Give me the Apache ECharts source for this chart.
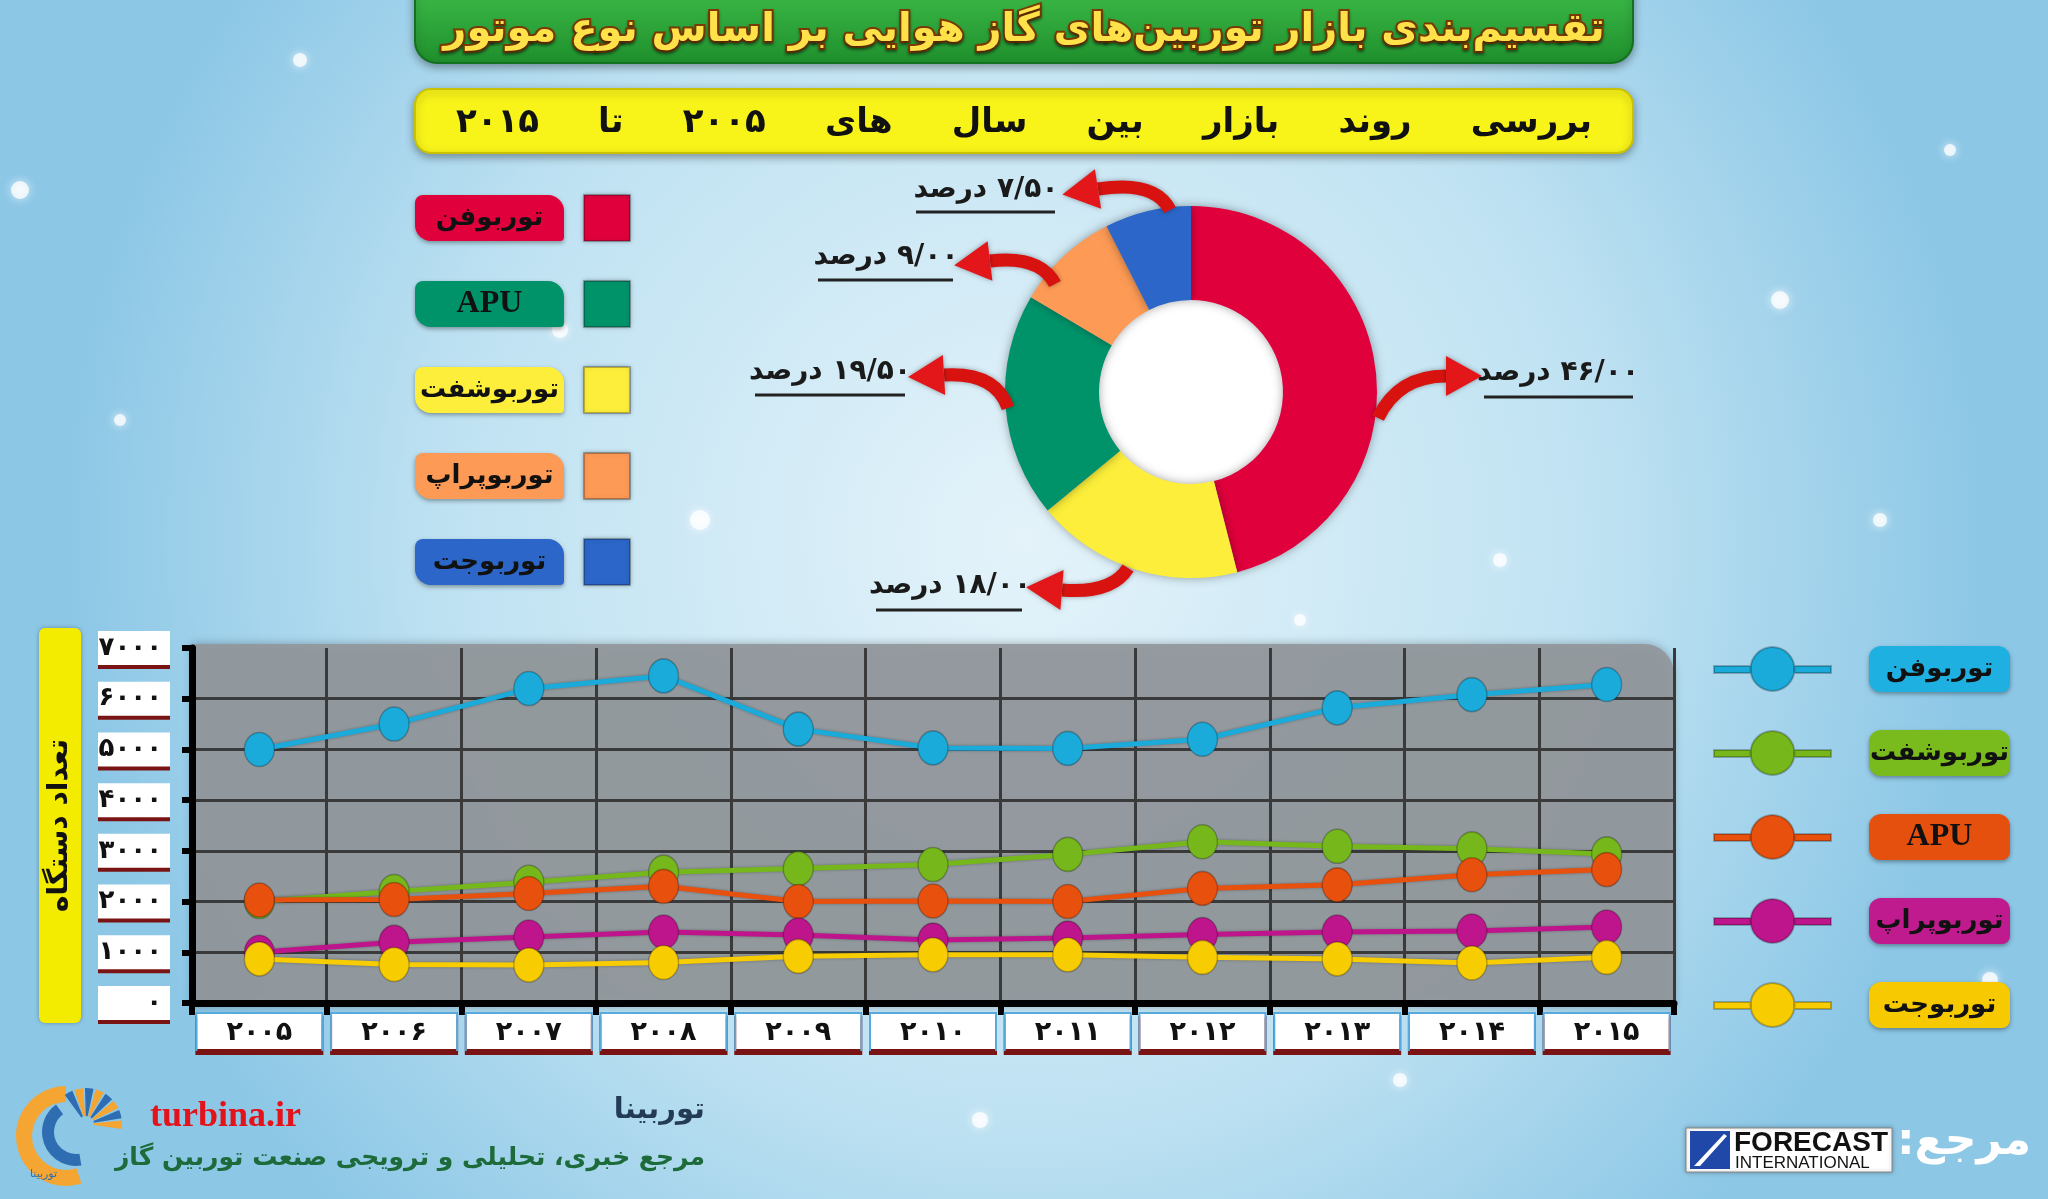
<!DOCTYPE html>
<html>
<head>
<meta charset="utf-8">
<script src="https://cdn.jsdelivr.net/npm/echarts@6/dist/echarts.min.js"></script>
<style>
  html, body { margin: 0; padding: 0; }
  #echarts { width: 2048px; height: 1199px; }
</style>
</head>
<body>
<div id="echarts"></div>
<script>
const FA = '"DejaVu Sans", "Noto Sans", sans-serif';
const RLM = '\u200F';

// داده‌ها
const years = [2005, 2006, 2007, 2008, 2009, 2010, 2011, 2012, 2013, 2014, 2015];
const turbofan = [5000, 5500, 6200, 6450, 5400, 5030, 5020, 5200, 5820, 6080, 6280];
const turboshaft = [2000, 2200, 2380, 2580, 2650, 2730, 2930, 3180, 3090, 3040, 2940];
const apu = [2030, 2040, 2160, 2300, 2000, 2010, 2000, 2260, 2330, 2530, 2630];
const turboprop = [1000, 1200, 1300, 1400, 1340, 1240, 1280, 1350, 1400, 1420, 1500];
const turbojet = [870, 760, 750, 800, 920, 950, 950, 900, 870, 790, 900];
const lineNames = ['توربوفن', 'توربوشفت', 'APU', 'توربوپراپ', 'توربوجت'];

const pieNames = ['توربوفن', 'توربوشفت', 'APU', 'توربوپراپ', 'توربوجت'];
const pieShare = [46, 18, 19.5, 9, 7.5];
const pieLegendOrder = ['توربوفن', 'APU', 'توربوشفت', 'توربوپراپ', 'توربوجت'];

const yTicks = { min: 0, max: 7000, interval: 1000 };

// رنگ‌ها و چیدمان
const lineColors = ['#1aabdb', '#76b81c', '#e8500e', '#be158c', '#f7cc00'];
const lineBoxColors = ['#1fb0e2', '#79bb1d', '#e5500f', '#c01b8e', '#f7c900'];
const pieColors = ['#e0003c', '#fcee3a', '#00936a', '#fd9a55', '#2b66c8'];
const pieLabelPos = [[1558, 373], [950, 586], [830, 372], [886, 257], [986, 190]];
const underlines = [[1484, 1633, 397], [876, 1022, 610], [755, 905, 395], [818, 953, 280], [916, 1055, 212]];
const arrows = [
  [[1378, 418], [1398, 376], [1446, 376]],
  [[1128, 568], [1112, 594], [1062, 590]],
  [[1008, 408], [996, 372], [944, 375]],
  [[1055, 284], [1040, 255], [990, 261]],
  [[1170, 210], [1155, 180], [1098, 189]]
];

const fa = s => String(s).replace(/\d/g, d => '۰۱۲۳۴۵۶۷۸۹'[d]);
const nameFont = n => (n === 'APU' ? '"Liberation Serif", serif' : FA);
const nameSize = n => (n === 'APU' ? 32 : 26);

function arrow(s, c, e) {
  const dx = e[0] - c[0], dy = e[1] - c[1];
  const len = Math.hypot(dx, dy);
  const ux = dx / len, uy = dy / len, px = -uy, py = ux;
  const head = 36, half = 20;
  return [
    {
      type: 'bezierCurve', z: 5,
      shape: { x1: s[0], y1: s[1], cpx1: c[0], cpy1: c[1], x2: e[0], y2: e[1] },
      style: { stroke: '#d8130f', lineWidth: 13, fill: 'none', shadowBlur: 5, shadowColor: 'rgba(0,0,0,0.35)' }
    },
    {
      type: 'polygon', z: 5,
      shape: { points: [[e[0] + px * half, e[1] + py * half], [e[0] + ux * head, e[1] + uy * head], [e[0] - px * half, e[1] - py * half]] },
      style: { fill: '#e3171a', shadowBlur: 5, shadowColor: 'rgba(0,0,0,0.35)' }
    }
  ];
}

const snow = [[20, 190, 9], [120, 420, 6], [300, 60, 7], [560, 330, 8], [700, 520, 10], [1450, 120, 8], [1500, 560, 7],
  [1780, 300, 9], [1950, 150, 6], [1880, 520, 7], [1300, 620, 6], [980, 1120, 8], [1400, 1080, 7], [60, 700, 6], [1990, 980, 8]];

const graphics = [];
// نوار عنوان
graphics.push({
  type: 'rect', z: 0, shape: { x: 415, y: -12, width: 1218, height: 75, r: [0, 0, 22, 22] },
  style: {
    fill: new echarts.graphic.LinearGradient(0, 0, 0, 1, [{ offset: 0, color: '#3dbb48' }, { offset: 1, color: '#1f8f2c' }]),
    stroke: '#13721f', lineWidth: 2, shadowBlur: 8, shadowColor: 'rgba(0,0,0,0.35)', shadowOffsetY: 3
  }
});
graphics.push({
  type: 'rect', z: 0, shape: { x: 415, y: 89, width: 1218, height: 64, r: 16 },
  style: { fill: '#f8f41a', stroke: '#c9c200', lineWidth: 2, shadowBlur: 8, shadowColor: 'rgba(0,0,0,0.35)', shadowOffsetY: 3 }
});
snow.forEach(p => graphics.push({
  type: 'circle', z: -5, shape: { cx: p[0], cy: p[1], r: p[2] },
  style: { fill: 'rgba(255,255,255,0.75)', shadowBlur: 10, shadowColor: '#fff' }
}));
// سوراخ وسط دونات
graphics.push({
  type: 'circle', z: 0, shape: { cx: 1191, cy: 392, r: 94 },
  style: { fill: '#ffffff', stroke: '#d8d8d8', lineWidth: 2 }
});
arrows.forEach(a => graphics.push(...arrow(a[0], a[1], a[2])));
underlines.forEach(u => graphics.push({
  type: 'line', z: 5, shape: { x1: u[0], y1: u[2], x2: u[1], y2: u[2] },
  style: { stroke: '#222', lineWidth: 3 }
}));
// پنل خاکستری نمودار خطی
graphics.push({
  type: 'rect', z: -1, shape: { x: 192, y: 644, width: 1482, height: 362, r: [0, 30, 0, 0] },
  style: { fill: 'rgba(146,152,156,0.93)', shadowBlur: 10, shadowColor: 'rgba(0,0,0,0.3)' }
});
// لوگوی توربینا
graphics.push({
  type: 'sector', z: 1, shape: { cx: 66, cy: 1136, r: 50, r0: 34, startAngle: Math.PI * 0.4, endAngle: Math.PI * 1.5, clockwise: true },
  style: { fill: '#f5a531' }
});
graphics.push({
  type: 'sector', z: 1, shape: { cx: 76, cy: 1132, r: 34, r0: 22, startAngle: Math.PI * 0.45, endAngle: Math.PI * 1.3, clockwise: true },
  style: { fill: '#2f6db3' }
});
[0, 1, 2, 3, 4, 5, 6, 7].forEach(i => graphics.push({
  type: 'sector', z: 1,
  shape: { cx: 86, cy: 1124, r: 36, r0: 8, startAngle: -Math.PI * 0.7 + i * 0.3, endAngle: -Math.PI * 0.7 + i * 0.3 + 0.24, clockwise: true },
  style: { fill: i % 2 ? '#f5a531' : '#2f6db3' }
}));
graphics.push({ type: 'text', z: 2, x: 30, y: 1174, style: { text: 'توربینا', font: '11px ' + FA, fill: '#2f6db3', align: 'left', verticalAlign: 'middle' } });
// متن پاورقی
graphics.push({ type: 'text', z: 2, x: 150, y: 1117, style: { text: 'turbina.ir', font: 'bold 36px "Liberation Serif", serif', fill: '#e3121b', verticalAlign: 'middle' } });
graphics.push({ type: 'text', z: 2, x: 705, y: 1110, style: { text: 'توربینا', font: 'bold 29px ' + FA, fill: '#243b55', align: 'right', verticalAlign: 'middle' } });
graphics.push({ type: 'text', z: 2, x: 705, y: 1158, style: { text: 'مرجع خبری، تحلیلی و ترویجی صنعت توربین گاز', font: 'bold 25px ' + FA, fill: '#1d6b3a', align: 'right', verticalAlign: 'middle' } });
graphics.push({
  type: 'text', z: 2, x: 2031, y: 1143,
  style: { text: 'مرجع:' + RLM, font: 'bold 44px ' + FA, fill: '#ffffff', align: 'right', verticalAlign: 'middle', shadowBlur: 6, shadowColor: 'rgba(0,0,0,0.45)', shadowOffsetY: 2 }
});
// لوگوی Forecast International
graphics.push({ type: 'rect', z: 1, shape: { x: 1686, y: 1128, width: 206, height: 44 }, style: { fill: '#ffffff', stroke: '#888', lineWidth: 1, shadowBlur: 4, shadowColor: 'rgba(0,0,0,0.3)' } });
graphics.push({ type: 'rect', z: 2, shape: { x: 1690, y: 1131, width: 40, height: 38 }, style: { fill: '#1f48a8' } });
graphics.push({ type: 'polygon', z: 3, shape: { points: [[1694, 1166], [1724, 1134], [1727, 1136], [1700, 1166]] }, style: { fill: '#ffffff' } });
graphics.push({ type: 'text', z: 3, x: 1734, y: 1143, style: { text: 'FORECAST', font: 'bold 28px "Liberation Sans", sans-serif', fill: '#111', verticalAlign: 'middle' } });
graphics.push({ type: 'text', z: 3, x: 1735, y: 1163, style: { text: 'INTERNATIONAL', font: '17px "Liberation Sans", sans-serif', fill: '#111', verticalAlign: 'middle' } });

const myChart = echarts.init(document.getElementById('echarts'));

const option = {
  animation: false,
  backgroundColor: {
    type: 'radial', x: 0.5, y: 0.45, r: 0.8,
    colorStops: [{ offset: 0, color: '#e4f3fa' }, { offset: 0.6, color: '#bfe2f2' }, { offset: 1, color: '#8cc7e6' }]
  },
  title: [
    {
      text: 'تقسیم‌بندی بازار توربین‌های گاز هوایی بر اساس نوع موتور',
      left: 'center', top: 6,
      textStyle: {
        fontFamily: FA, fontSize: 40, fontWeight: 'bold', color: '#ffe24a',
        textBorderColor: '#7a3a00', textBorderWidth: 4,
        textShadowColor: 'rgba(0,0,0,0.4)', textShadowBlur: 3, textShadowOffsetY: 2
      }
    },
    {
      text: 'بررسی     روند     بازار     بین     سال     های     ' + fa(years[0]) + '     تا     ' + fa(years[years.length - 1]),
      left: 'center', top: 101,
      textStyle: { fontFamily: FA, fontSize: 34, fontWeight: 'bold', color: '#111' }
    }
  ],
  legend: [
    {
      orient: 'vertical', left: 410, top: 189, align: 'right',
      itemWidth: 46, itemHeight: 46, itemGap: 38, selectedMode: false,
      formatter: n => '{b|' + n + '}{g|}',
      data: pieLegendOrder.map(n => ({
        name: n, icon: 'rect',
        itemStyle: { color: pieColors[pieNames.indexOf(n)], shadowBlur: 4, shadowColor: 'rgba(0,0,0,0.35)' },
        textStyle: {
          rich: {
            b: {
              backgroundColor: pieColors[pieNames.indexOf(n)], color: '#111', fontFamily: nameFont(n),
              fontWeight: 'bold', fontSize: nameSize(n), width: 133, height: 38, align: 'center', padding: [4, 8],
              borderRadius: [8, 16, 4, 16], shadowColor: 'rgba(0,0,0,0.35)', shadowBlur: 4, shadowOffsetY: 2
            },
            g: { width: 15 }
          }
        }
      }))
    },
    {
      orient: 'vertical', left: 1708, top: 641,
      itemWidth: 117, itemHeight: 44, itemGap: 38, selectedMode: false,
      icon: 'path://M0,19H37V26H0Z M80,19H117V26H80Z M36.5,22A22,22 0 1,1 80.5,22A22,22 0 1,1 36.5,22Z',
      formatter: n => '{g|}{b|' + n + '}',
      data: lineNames.map((n, i) => ({
        name: n,
        textStyle: {
          rich: {
            g: { width: 33 },
            b: {
              backgroundColor: lineBoxColors[i], color: '#111', fontFamily: nameFont(n),
              fontWeight: 'bold', fontSize: nameSize(n), width: 125, height: 38, align: 'center', padding: [4, 8],
              borderRadius: [12, 12, 8, 12], shadowColor: 'rgba(0,0,0,0.35)', shadowBlur: 4, shadowOffsetY: 2
            }
          }
        }
      }))
    }
  ],
  grid: { left: 192, top: 648, width: 1482, height: 355, show: false },
  xAxis: {
    type: 'category', data: years, boundaryGap: true, z: 1,
    axisLine: { lineStyle: { color: '#000', width: 7 } },
    axisTick: { show: true, length: 12, lineStyle: { color: '#000', width: 6 } },
    splitLine: { show: true, lineStyle: { color: '#3a3a3a', width: 3 } },
    axisLabel: {
      margin: 11, formatter: v => fa(v),
      fontFamily: FA, fontWeight: 'bold', fontSize: 27, color: '#111',
      backgroundColor: '#ffffff', width: 120, align: 'center', padding: [5, 2, 3, 2],
      borderColor: '#58a9dc', borderWidth: 2,
      shadowColor: '#7a1414', shadowOffsetY: 4, shadowBlur: 0
    }
  },
  yAxis: {
    type: 'value', min: yTicks.min, max: yTicks.max, interval: yTicks.interval, z: 1,
    name: 'تعداد دستگاه', nameLocation: 'middle', nameRotate: 90, nameGap: 111,
    nameTextStyle: {
      fontFamily: FA, fontWeight: 'bold', fontSize: 28, color: '#111',
      backgroundColor: '#f3ec00', padding: [7, 111], borderRadius: 6,
      shadowColor: 'rgba(0,0,0,0.3)', shadowBlur: 4
    },
    axisLine: { show: true, lineStyle: { color: '#000', width: 7 } },
    axisTick: { show: true, length: 10, lineStyle: { color: '#000', width: 6 } },
    splitLine: {
      show: true,
      lineStyle: { color: ['#3a3a3a', '#3a3a3a', '#3a3a3a', '#3a3a3a', '#3a3a3a', '#3a3a3a', '#3a3a3a', 'rgba(0,0,0,0)'], width: 3 }
    },
    axisLabel: {
      margin: 22, formatter: v => fa(v),
      fontFamily: FA, fontWeight: 'bold', fontSize: 26, color: '#111',
      backgroundColor: '#ffffff', width: 60, align: 'right', padding: [5, 8, 3, 4],
      shadowColor: '#7a1414', shadowOffsetY: 4, shadowBlur: 0
    }
  },
  series: [
    {
      type: 'pie', z: 3, center: [1191, 392], radius: [92, 186], startAngle: 90, clockwise: true,
      avoidLabelOverlap: false, color: pieColors,
      itemStyle: { shadowBlur: 10, shadowColor: 'rgba(0,0,0,0.35)' },
      label: {
        show: true, position: 'outside',
        formatter: p => RLM + fa(p.value.toFixed(2)).replace('.', '/') + ' درصد',
        fontFamily: FA, fontWeight: 'bold', fontSize: 28, color: '#1a1a1a'
      },
      labelLine: { show: false },
      labelLayout: p => ({ x: pieLabelPos[p.dataIndex][0], y: pieLabelPos[p.dataIndex][1], align: 'center', verticalAlign: 'middle' }),
      emphasis: { disabled: true },
      data: pieNames.map((n, i) => ({ name: n, value: pieShare[i] }))
    },
    ...[turbofan, turboshaft, apu, turboprop, turbojet].map((d, i) => ({
      name: lineNames[i], type: 'line', data: d,
      symbol: 'circle', symbolSize: [30, 34],
      itemStyle: { color: lineColors[i], borderColor: 'rgba(0,0,0,0.25)', borderWidth: 1.5 },
      lineStyle: { color: lineColors[i], width: 5, shadowBlur: 3, shadowColor: 'rgba(0,0,0,0.3)' }
    }))
  ],
  graphic: graphics
};
myChart.setOption(option);
</script>
</body>
</html>
